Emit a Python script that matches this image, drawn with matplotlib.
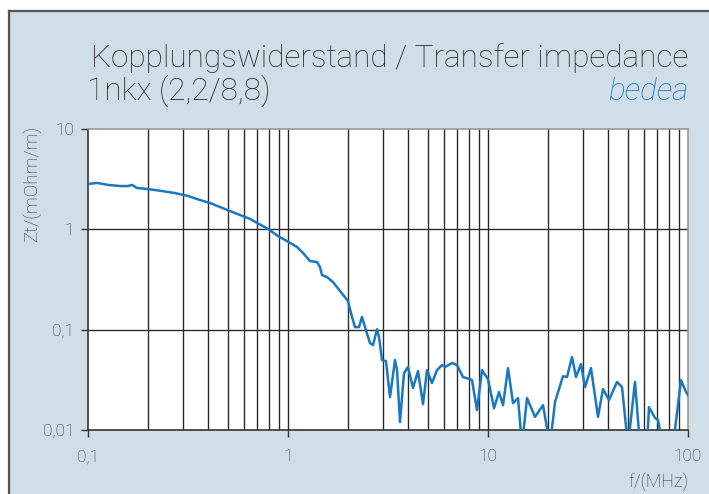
import matplotlib.pyplot as plt
from matplotlib.patches import Rectangle
from matplotlib.lines import Line2D
from matplotlib.ticker import FixedLocator, NullLocator

# frequency in MHz
freq = [0.100, 0.111, 0.126, 0.145, 0.158, 0.166, 0.176, 0.200, 0.234, 0.272,
        0.316, 0.363, 0.407, 0.457, 0.513, 0.575, 0.646, 0.700, 0.794, 0.891,
        0.989, 1.109, 1.189, 1.288, 1.396, 1.445, 1.479, 1.567, 1.679, 1.820,
        1.995, 2.089, 2.163, 2.265, 2.344, 2.427, 2.570, 2.661, 2.786, 2.851,
        2.951, 3.090, 3.236, 3.428, 3.508, 3.631, 3.802, 3.981, 4.217, 4.467,
        4.732, 4.955, 5.248, 5.559, 5.888, 6.095, 6.607, 6.998, 7.499, 8.128,
        8.318, 8.810, 9.333, 10.00, 10.72, 11.35, 11.89, 12.59, 13.34, 14.13,
        14.79, 15.67, 17.18, 18.84, 20.42, 21.63, 23.71, 24.83, 26.30, 27.54,
        29.17, 30.55, 32.73, 35.48, 37.58, 40.27, 44.16, 46.77, 50.12, 54.33,
        57.54, 62.37, 63.83, 68.39, 70.79, 74.99, 84.14, 92.26, 97.72, 100.0]

# transfer impedance in mOhm/m
zt = [2.83, 2.90, 2.77, 2.70, 2.70, 2.77, 2.58, 2.52, 2.41, 2.30,
      2.15, 1.96, 1.83, 1.67, 1.52, 1.39, 1.27, 1.16, 1.01, 0.857,
      0.764, 0.667, 0.581, 0.483, 0.472, 0.421, 0.350, 0.334, 0.298, 0.243,
      0.193, 0.134, 0.106, 0.106, 0.134, 0.106, 0.0735, 0.0702, 0.101, 0.0844,
      0.0498, 0.0486, 0.0213, 0.0498, 0.0395, 0.0120, 0.0369, 0.0424, 0.0262, 0.0386,
      0.0181, 0.0395, 0.0294, 0.0395, 0.0444, 0.0424, 0.0465, 0.0444, 0.0337, 0.0321,
      0.0314, 0.0158, 0.0395, 0.0321, 0.0165, 0.0239, 0.0177, 0.0414, 0.0185, 0.0208,
      0.007, 0.0208, 0.0135, 0.0177, 0.007, 0.0190, 0.0344, 0.0337, 0.0533, 0.0337,
      0.0454, 0.0268, 0.0414, 0.0135, 0.0256, 0.0199, 0.0301, 0.0268, 0.007, 0.0301,
      0.007, 0.007, 0.0169, 0.0132, 0.0126, 0.007, 0.007, 0.0314, 0.0239, 0.0223]

x_ticks = [0.1, 1, 10, 100]
x_labels = ['0,1', '1', '10', '100']
y_ticks = [0.01, 0.1, 1, 10]
y_labels = ['0,01', '0,1', '1', '10']

W, H = 709, 494
bg = '#cfdee7'
blue = '#1a78c2'
grid_c = '#2b2b2b'
font = 'Roboto'
fw = 'light'

fig = plt.figure(figsize=(W / 100, H / 100), dpi=100)
fig.patch.set_facecolor('white')

# panel background with dark border on top and left
fig.patches.append(Rectangle((9 / W, 0), 1, 1 - 11 / H, transform=fig.transFigure,
                             facecolor=bg, edgecolor='none', zorder=-5))
fig.lines.append(Line2D([9 / W, 9 / W], [0, 1 - 11 / H], transform=fig.transFigure,
                        color='#555555', lw=1.6, zorder=-4))
fig.lines.append(Line2D([9 / W, 1], [1 - 11 / H, 1 - 11 / H], transform=fig.transFigure,
                        color='#555555', lw=1.6, zorder=-4))

ax = fig.add_axes([88 / W, 1 - 430 / H, 600 / W, 301 / H])
ax.set_zorder(2)
ax.set_facecolor('white')
ax.set_xscale('log')
ax.set_yscale('log')
ax.set_xlim(0.1, 100)
ax.set_ylim(0.01, 10)

# vertical grid at every 1..9 step, horizontal only at decades
vgrid = [m * 10.0 ** e for e in (-1, 0, 1) for m in range(2, 10)] + [1, 10]
for v in vgrid:
    ax.axvline(v, color=grid_c, lw=1.0, zorder=1)
for h in [0.1, 1]:
    ax.axhline(h, color=grid_c, lw=1.0, zorder=1)

ax.plot(freq, zt, color=blue, lw=1.8, zorder=3, solid_joinstyle='round')

ax.xaxis.set_major_locator(FixedLocator(x_ticks))
ax.xaxis.set_minor_locator(NullLocator())
ax.yaxis.set_major_locator(FixedLocator(y_ticks))
ax.yaxis.set_minor_locator(NullLocator())
ax.set_xticklabels(x_labels, fontfamily=font, fontweight=fw, fontsize=12.5, color='#333333')
ax.set_yticklabels(y_labels, fontfamily=font, fontweight=fw, fontsize=12.5, color='#333333')
ax.tick_params(axis='both', direction='out', length=5, width=1, color='#333333')
ax.tick_params(axis='x', pad=9)
ax.tick_params(axis='y', pad=5)

for side in ['left', 'bottom']:
    ax.spines[side].set_color('#333333')
    ax.spines[side].set_linewidth(1.2)
for side in ['top', 'right']:
    ax.spines[side].set_color('#999999')
    ax.spines[side].set_linewidth(1.2)

fig.text(688 / W, 1 - 67 / H, 'Kopplungswiderstand / Transfer impedance',
         ha='right', va='baseline', fontsize=22.7, fontfamily=font, fontweight=fw,
         color='#2a2a2a')
fig.text(87 / W, 1 - 100 / H, '1nkx (2,2/8,8)',
         ha='left', va='baseline', fontsize=22.7, fontfamily=font, fontweight=fw,
         color='#2a2a2a')
fig.text(688 / W, 1 - 100 / H, 'bedea',
         ha='right', va='baseline', fontsize=22.7, fontfamily=font, fontweight=fw,
         style='italic', color=blue)

fig.text(688 / W, 1 - 487 / H, 'f/(MHz)', ha='right', va='baseline',
         fontsize=13, fontfamily=font, fontweight=fw, color='#333333')
fig.text(33 / W, 1 - 126 / H, 'Zt/(mOhm/m)', ha='center', va='top', rotation=90,
         fontsize=13.5, fontfamily=font, fontweight=fw, color='#333333')

fig.savefig('out.png', dpi=100)
